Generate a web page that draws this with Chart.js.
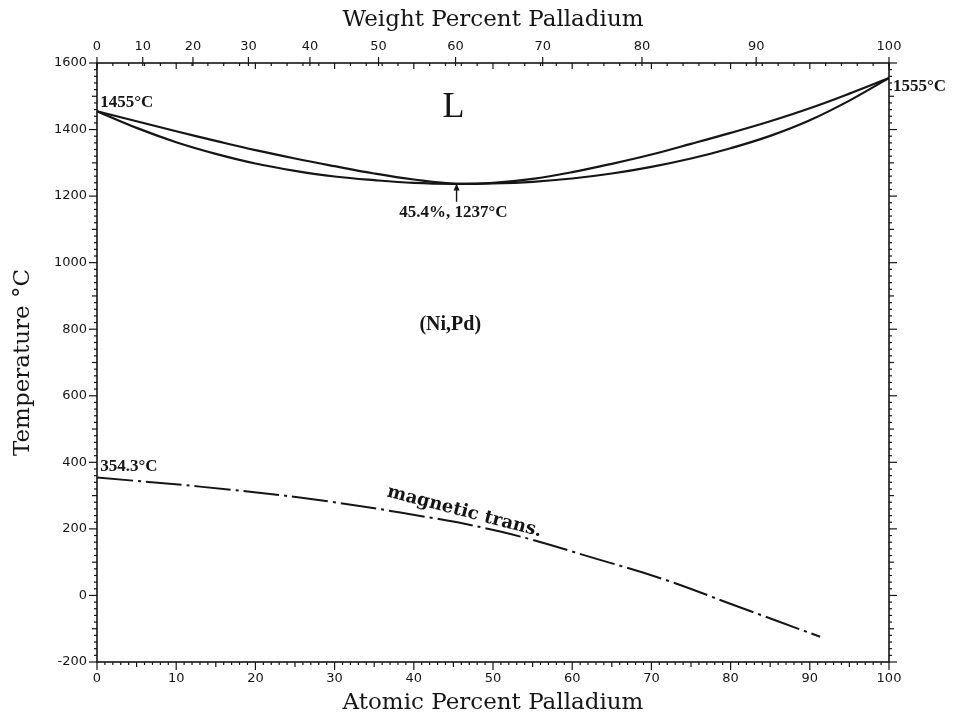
<!DOCTYPE html>
<html>
<head>
<meta charset="utf-8">
<script src="https://cdn.jsdelivr.net/npm/chart.js@4.4.1/dist/chart.umd.min.js"></script>
<style>
  html, body { margin: 0; padding: 0; background: #fff; }
  #chart { display: block; }
</style>
</head>
<body>
<canvas id="chart" width="956" height="717"></canvas>
<script>
// liquidus / solidus (atomic % Pd, temperature in °C)
const liquidusX = [0, 5, 10, 15, 20, 25, 30, 35, 40, 45.4, 50, 55, 60, 65, 70, 75, 80, 85, 90, 95, 100];
const liquidusT = [1455, 1425, 1395, 1366, 1338, 1313, 1290, 1268, 1250, 1237, 1240, 1252, 1272, 1297, 1325, 1357, 1390, 1425, 1464, 1508, 1555];
const solidusX = [0, 5, 10, 15, 20, 25, 30, 35, 40, 45.4, 50, 55, 60, 65, 70, 75, 80, 85, 90, 95, 100];
const solidusT = [1455, 1405, 1362, 1327, 1298, 1276, 1259, 1248, 1240, 1237, 1238, 1243, 1253, 1268, 1288, 1313, 1344, 1381, 1428, 1487, 1555];

// magnetic transition (Curie temperature)
const magneticX = [0, 13, 25.6, 38.3, 50.9, 63.5, 72, 80.3, 91.3];
const magneticT = [354.3, 327, 294, 249, 192, 107, 45, -28, -124];

// axis ticks
const atomicTicks = [0, 10, 20, 30, 40, 50, 60, 70, 80, 90, 100];
const weightTicks = [0, 10, 20, 30, 40, 50, 60, 70, 80, 90, 100];
const tempTicks = [-200, 0, 200, 400, 600, 800, 1000, 1200, 1400, 1600];

// weight % Pd -> atomic % Pd
const M_NI = 58.693, M_PD = 106.42;
const wtToAt = (w) => {
    if (w <= 0) return 0;
    if (w >= 100) return 100;
    const pd = w / M_PD, ni = (100 - w) / M_NI;
    return 100 * pd / (pd + ni);
};

const toPoints = (xs, ys) => xs.map((x, i) => ({ x: x, y: ys[i] }));

const INK = '#151515';
const tickFont = { family: 'DejaVu Sans', size: 13 };
const titleFont = { family: 'DejaVu Serif', size: 23, lineHeight: 1.2 };

// frame and tick marks
const frameTicks = {
    id: 'frameTicks',
    afterDraw(chart) {
        const { ctx, chartArea: a, scales: { x, y } } = chart;
        const line = (x1, y1, x2, y2) => {
            ctx.beginPath(); ctx.moveTo(x1, y1); ctx.lineTo(x2, y2); ctx.stroke();
        };
        ctx.save();
        ctx.strokeStyle = INK;
        ctx.lineWidth = 1.6;
        ctx.strokeRect(a.left, a.top, a.right - a.left, a.bottom - a.top);
        ctx.lineWidth = 1.2;
        // bottom, outward
        for (let v = 0; v <= 100; v++) {
            const px = x.getPixelForValue(v);
            const len = v % 10 === 0 ? 8 : (v % 5 === 0 ? 5 : 3);
            line(px, a.bottom, px, a.bottom + len);
        }
        // top, at% inward
        for (let v = 0; v <= 100; v += 2) {
            const px = x.getPixelForValue(v);
            const len = v % 10 === 0 ? 6 : 3;
            line(px, a.top, px, a.top + len);
        }
        // top, wt% outward
        weightTicks.forEach(w => {
            const px = x.getPixelForValue(wtToAt(w));
            line(px, a.top - 6, px, a.top + 3);
        });
        // left and right, outward
        for (let v = -200; v <= 1600; v += 20) {
            const py = y.getPixelForValue(v);
            const len = v % 200 === 0 ? 8 : (v % 100 === 0 ? 5 : 3);
            line(a.left - len, py, a.left, py);
            line(a.right, py, a.right + len, py);
        }
        ctx.restore();
    }
};

// text labels on the diagram
const labels = {
    id: 'labels',
    afterDraw(chart) {
        const { ctx, scales: { x, y } } = chart;
        const put = (text, xv, yv, font, align, rot) => {
            ctx.save();
            ctx.translate(x.getPixelForValue(xv), y.getPixelForValue(yv));
            if (rot) ctx.rotate(rot);
            ctx.font = font;
            ctx.textAlign = align || 'center';
            ctx.textBaseline = 'middle';
            ctx.fillStyle = INK;
            ctx.fillText(text, 0, 0);
            ctx.restore();
        };
        const lbl = 'bold 17px "Liberation Serif"';
        put('L', 45, 1466, '36px "Liberation Serif"');
        put('1455°C', 0.4, 1480, lbl, 'left');
        put('1555°C', 100.5, 1528, lbl, 'left');
        put('354.3°C', 0.4, 388, lbl, 'left');
        put('45.4%, 1237°C', 45.0, 1150, lbl);
        put('(Ni,Pd)', 44.6, 813, 'bold 20px "Liberation Serif"');
        put('magnetic trans.', 46.4, 251, 'bold 18px "DejaVu Serif"', 'center', 0.255);
        put('Ni', 2, -519, '20px "DejaVu Serif"');
        put('Pd', 101.8, -550, '20px "DejaVu Serif"');

        // arrow at the congruent minimum
        const ax = x.getPixelForValue(45.4);
        const y0 = y.getPixelForValue(1183), y1 = y.getPixelForValue(1238);
        ctx.save();
        ctx.strokeStyle = INK; ctx.fillStyle = INK; ctx.lineWidth = 1.4;
        ctx.beginPath(); ctx.moveTo(ax, y0); ctx.lineTo(ax, y1 + 4); ctx.stroke();
        ctx.beginPath(); ctx.moveTo(ax, y1); ctx.lineTo(ax - 3, y1 + 7); ctx.lineTo(ax + 3, y1 + 7); ctx.closePath(); ctx.fill();
        ctx.restore();
    }
};

new Chart(document.getElementById('chart'), {
    type: 'scatter',
    data: {
        datasets: [
            {
                label: 'Liquidus',
                data: toPoints(liquidusX, liquidusT),
                showLine: true,
                borderColor: INK,
                borderWidth: 2.2,
                pointRadius: 0,
                tension: 0.4
            },
            {
                label: 'Solidus',
                data: toPoints(solidusX, solidusT),
                showLine: true,
                borderColor: INK,
                borderWidth: 2.2,
                pointRadius: 0,
                tension: 0.4
            },
            {
                label: 'Magnetic transition',
                data: toPoints(magneticX, magneticT),
                showLine: true,
                borderColor: INK,
                borderWidth: 2,
                borderDash: [36, 5, 3, 5],
                pointRadius: 0,
                tension: 0.4
            }
        ]
    },
    options: {
        responsive: false,
        animation: false,
        layout: { padding: 0 },
        plugins: { legend: { display: false }, tooltip: { enabled: false } },
        scales: {
            x: {
                type: 'linear',
                position: 'bottom',
                min: 0, max: 100,
                grid: { display: false, drawTicks: false },
                border: { display: false },
                afterBuildTicks: (s) => { s.ticks = atomicTicks.map(v => ({ value: v })); },
                ticks: { font: tickFont, color: INK, padding: 9, maxRotation: 0, autoSkip: false, callback: (v) => String(v) },
                title: { display: true, text: 'Atomic Percent Palladium', font: titleFont, color: INK, padding: { top: 0, bottom: 0 } },
                afterFit: (s) => { s.height = 55; }
            },
            x2: {
                type: 'linear',
                position: 'top',
                min: 0, max: 100,
                grid: { display: false, drawTicks: false },
                border: { display: false },
                afterBuildTicks: (s) => { s.ticks = weightTicks.map(w => ({ value: wtToAt(w) })); },
                ticks: {
                    font: tickFont, color: INK, padding: 9, maxRotation: 0, autoSkip: false,
                    callback: (value, index) => String(weightTicks[index])
                },
                title: { display: true, text: 'Weight Percent Palladium', font: titleFont, color: INK, padding: { top: 6, bottom: 0 } },
                afterFit: (s) => { s.height = 63; }
            },
            y: {
                type: 'linear',
                position: 'left',
                min: -200, max: 1600,
                grid: { display: false, drawTicks: false },
                border: { display: false },
                afterBuildTicks: (s) => { s.ticks = tempTicks.map(v => ({ value: v })); },
                ticks: { font: tickFont, color: INK, padding: 10, autoSkip: false, callback: (v) => String(v) },
                title: { display: true, text: 'Temperature °C', font: titleFont, color: INK, padding: { top: 9, bottom: 0 } },
                afterFit: (s) => { s.width = 97; }
            },
            y2: {
                type: 'linear',
                position: 'right',
                display: true,
                min: -200, max: 1600,
                grid: { display: false, drawTicks: false },
                border: { display: false },
                ticks: { display: false },
                afterFit: (s) => { s.width = 67; }
            }
        }
    },
    plugins: [frameTicks, labels]
});
</script>
</body>
</html>
